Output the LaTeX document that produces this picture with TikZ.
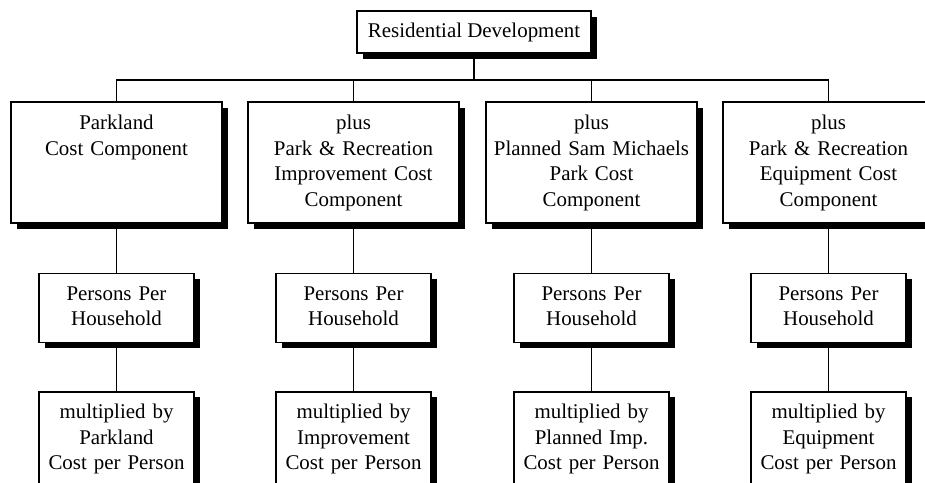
\documentclass[tikz,border=0pt]{standalone}
\usepackage{fontspec}
\setmainfont{Liberation Serif}
\usetikzlibrary{positioning,shadows}

\begin{document}
\begin{tikzpicture}[x=0.5bp,y=-0.5bp,
  font=\fontsize{10.5}{12.75}\selectfont,
  box/.style={draw,fill=white,line width=0.7bp,align=center,inner xsep=2bp,inner ysep=0pt,
    drop shadow={fill=black,opacity=1,shadow xshift=2.8bp,shadow yshift=-2.8bp}},
  comp/.style={box,text width=101.5bp,text height=14bp,text depth=46.5bp},
  perhh/.style={box,text width=73.5bp,text height=13.5bp,text depth=21bp},
  mult/.style={box,text width=73.5bp,text height=13.5bp,text depth=41.5bp},
  link/.style={line width=0.7bp},
]
\useasboundingbox (0,0) rectangle (925,483);
\clip (0,0) rectangle (925,483);
% top of the tree
\node[box,minimum width=117bp,minimum height=21bp] (res) at (474,32) {Residential Development};
\coordinate (bar) at (0,80);
% cost components
\node[comp] (park) at (116.5,162.5) {Parkland\\Cost Component};
\node[comp] (impr) at (353.5,162.5) {plus\\Park \& Recreation\\Improvement Cost\\Component};
\node[comp] (sam) at (591.5,162.5) {plus\\Planned Sam Michaels\\Park Cost\\Component};
\node[comp] (equip) at (828.5,162.5) {plus\\Park \& Recreation\\Equipment Cost\\Component};
% persons per household
\node[perhh,below=24.5bp of park] (hh1) {Persons Per\\Household};
\node[perhh,below=24.5bp of impr] (hh2) {Persons Per\\Household};
\node[perhh,below=24.5bp of sam] (hh3) {Persons Per\\Household};
\node[perhh,below=24.5bp of equip] (hh4) {Persons Per\\Household};
% cost per person
\node[mult,below=24bp of hh1] (mul1) {multiplied by\\Parkland\\Cost per Person};
\node[mult,below=24bp of hh2] (mul2) {multiplied by\\Improvement\\Cost per Person};
\node[mult,below=24bp of hh3] (mul3) {multiplied by\\Planned Imp.\\Cost per Person};
\node[mult,below=24bp of hh4] (mul4) {multiplied by\\Equipment\\Cost per Person};
% connectors
\draw[link] (res.south) -- (res.south |- bar);
\draw[link] (park.north) -- (park.north |- bar) -- (equip.north |- bar) -- (equip.north);
\draw[link] (impr.north) -- (impr.north |- bar);
\draw[link] (sam.north) -- (sam.north |- bar);
\draw[link] (park.south) -- (hh1.north) (hh1.south) -- (mul1.north);
\draw[link] (impr.south) -- (hh2.north) (hh2.south) -- (mul2.north);
\draw[link] (sam.south) -- (hh3.north) (hh3.south) -- (mul3.north);
\draw[link] (equip.south) -- (hh4.north) (hh4.south) -- (mul4.north);
\end{tikzpicture}
\end{document}
